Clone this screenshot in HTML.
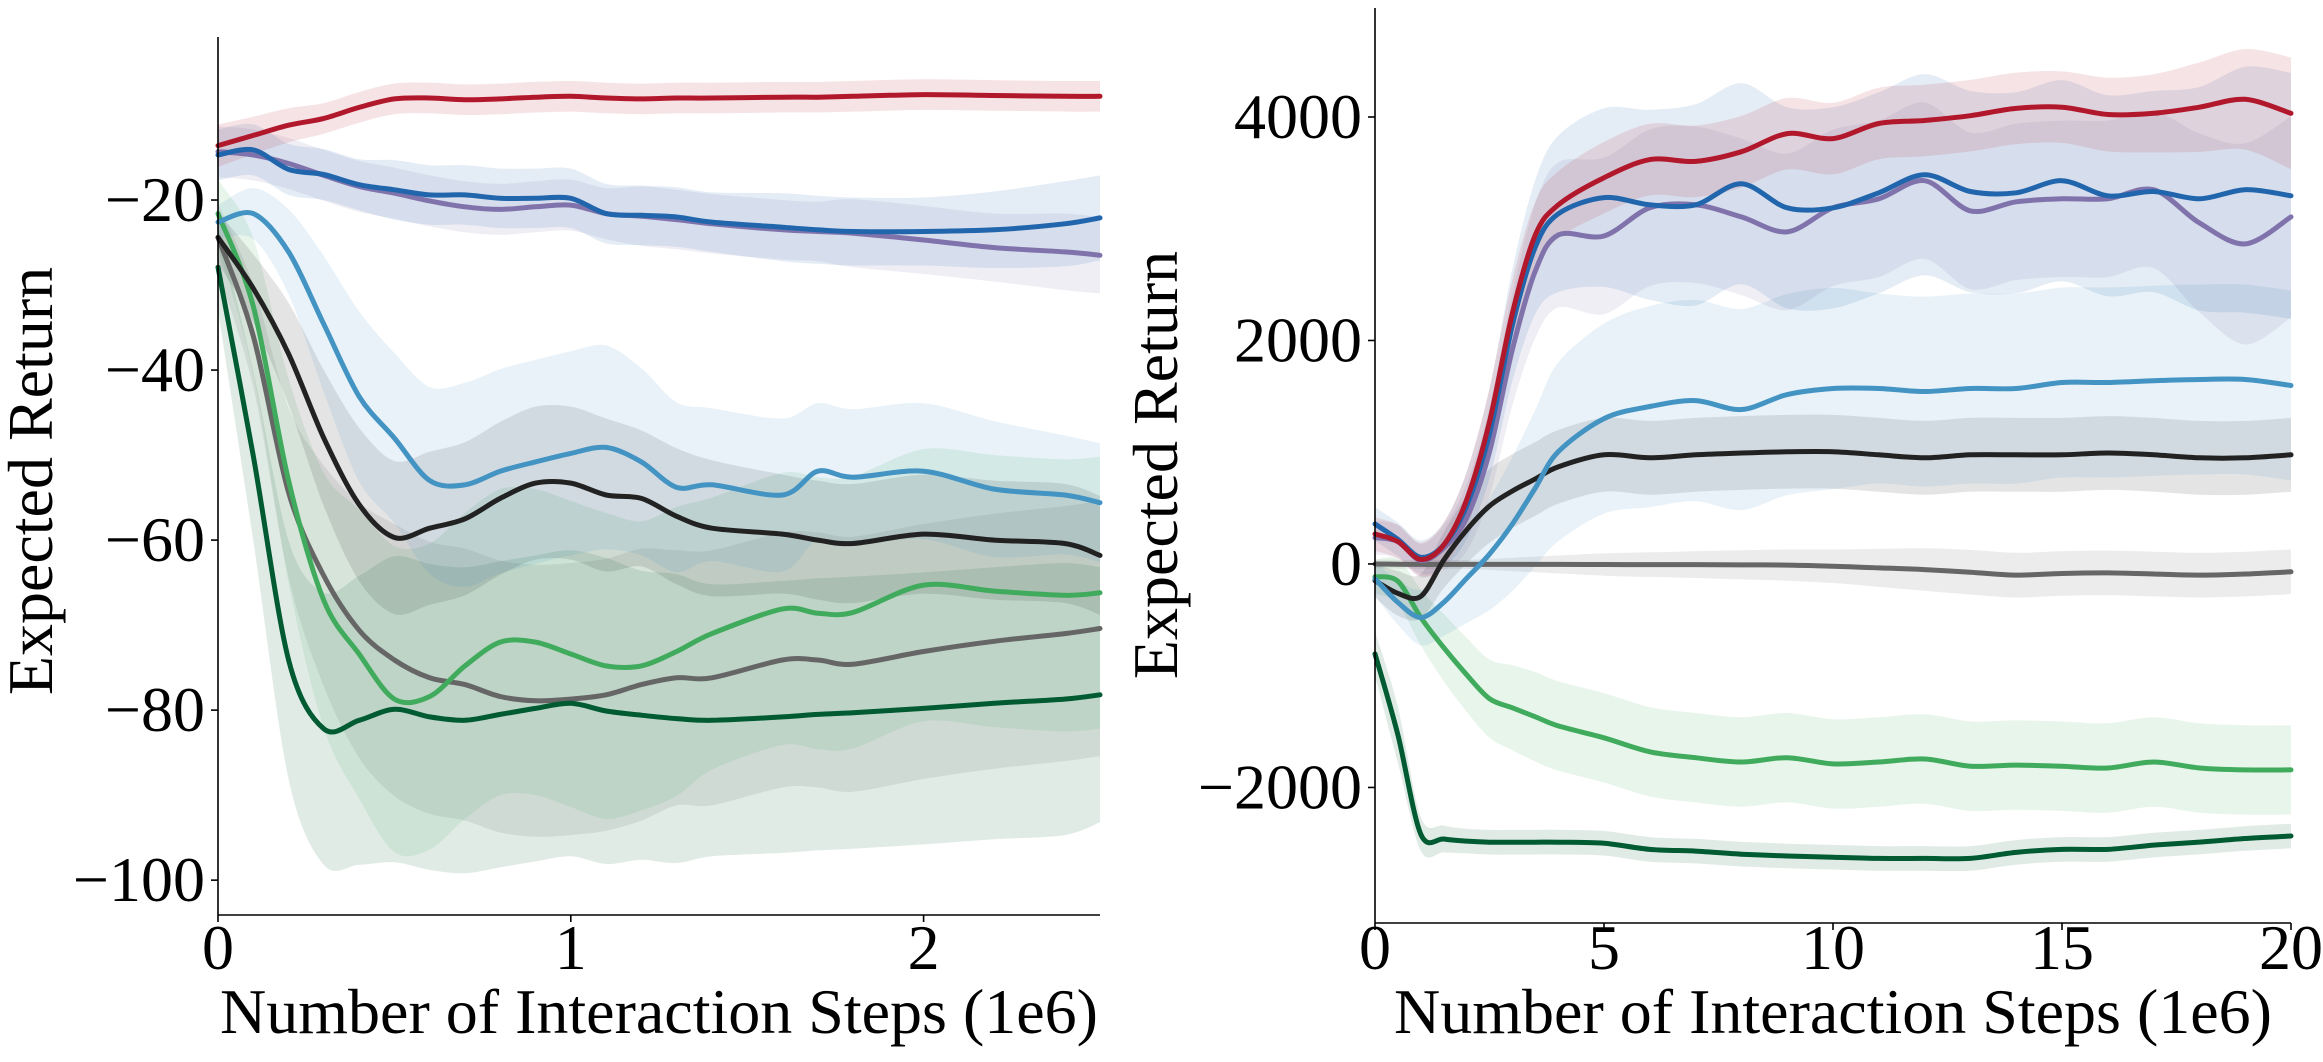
<!DOCTYPE html>
<html><head><meta charset="utf-8"><style>
html,body{margin:0;padding:0;background:#fff;}
svg{display:block;font-family:"Liberation Serif","DejaVu Serif",serif;}
</style></head><body>
<svg id="chart" width="2323" height="1062" viewBox="0 0 2323 1062" xmlns="http://www.w3.org/2000/svg">
<g id="left"></g>
<g id="right"></g>
</svg>
<script>
// ---------- Left panel data ----------
const xL = [0,0.1,0.2,0.3,0.4,0.5,0.6,0.7,0.8,0.9,1.0,1.1,1.2,1.3,1.4,1.6,1.7,1.8,2.0,2.2,2.4,2.5];
const L_red = [-13.6,-12.4,-11.2,-10.4,-9.1,-8.1,-8.0,-8.2,-8.1,-7.9,-7.8,-8.0,-8.1,-8.0,-8.0,-7.9,-7.9,-7.8,-7.6,-7.7,-7.8,-7.8];
const L_blue = [-14.7,-14.1,-16.4,-17.0,-18.2,-18.8,-19.4,-19.4,-19.8,-19.8,-19.8,-21.6,-21.8,-22.0,-22.6,-23.2,-23.5,-23.7,-23.7,-23.5,-22.8,-22.1];
const L_purple = [-14.3,-14.7,-15.7,-17.1,-18.4,-19.2,-20.1,-20.8,-21.1,-20.8,-20.6,-21.6,-21.9,-22.3,-22.8,-23.5,-23.7,-23.9,-24.7,-25.6,-26.1,-26.5];
const L_lblue = [-22.6,-21.6,-26.1,-34.6,-43.1,-48.0,-53.0,-53.5,-51.9,-50.8,-49.8,-49.1,-50.8,-53.8,-53.5,-54.7,-51.9,-52.6,-51.9,-54.0,-54.7,-55.6];
const L_black = [-24.4,-30.4,-38.1,-48.0,-55.8,-59.7,-58.6,-57.5,-55.1,-53.3,-53.3,-54.7,-55.1,-57.2,-58.6,-59.3,-60.0,-60.4,-59.3,-60.0,-60.4,-61.8];
const L_gray = [-24.4,-36.0,-54.4,-64.2,-70.6,-74.1,-76.2,-77.0,-78.4,-78.9,-78.7,-78.2,-77.0,-76.2,-76.2,-74.1,-74.1,-74.6,-73.1,-71.9,-71.0,-70.4];
const L_green = [-21.6,-32.5,-53.0,-67.1,-73.4,-78.7,-78.4,-74.8,-72.0,-72.0,-73.4,-74.8,-74.8,-73.1,-71.0,-68.1,-68.6,-68.5,-65.3,-66.0,-66.5,-66.2];
const L_dgreen = [-27.9,-50.1,-74.1,-82.2,-81.2,-79.9,-80.8,-81.2,-80.5,-79.8,-79.2,-80.1,-80.6,-81.0,-81.2,-80.8,-80.5,-80.3,-79.8,-79.2,-78.7,-78.2];
// band half-widths
const LB_red = [2.5,2.2,2,1.8,1.8,1.8,1.8,1.8,1.8,1.8,1.8,1.8,1.8,1.8,1.8,1.8,1.8,1.8,1.8,1.8,1.8,1.8];
const LB_blue = [3,3,3,3,3,3.5,3.5,3.5,3.5,3.5,3.5,3.5,3.5,3.5,3.5,4,4,4,4,4.5,5,5];
const LB_purple = [3,3,3,3,3,3,3,3,3,3,3,3,3.5,3.5,3.5,3.5,3.5,4,4,4,4.5,4.5];
const LB_lblue = [2,3,5,8,10,10,11,12,12,12,12,12,11,10,9,9,8,8,8,8,7,7];
const LB_black = [3,4,6,8,9,9,9,9,9,9,9,9,8,8,8,7,7,7,7,7,7,7];
const LB_gray = [4,6,10,13,15,16,16,16,16,16,16,16,16,15,15,15,15,15,15,15,15,15];
const LB_green = [4,8,12,15,17,18,18,18,18,18,18,18,17,17,16,16,16,16,16,16,16,16];
const LB_dgreen = [5,10,14,16,17,18,18,18,18,18,18,18,17,17,16,16,16,16,16,16,16,15];
const L_xticks = [0,1,2];
const L_yticks = [-20,-40,-60,-80,-100];

// ---------- Right panel data ----------
const xR = [0,0.5,1,1.5,2,2.5,3,3.5,4,5,6,7,8,9,10,11,12,13,14,15,16,17,18,19,20];
const R_red = [268,200,40,170,573,1273,2245,2944,3213,3457,3619,3603,3689,3851,3807,3942,3969,4012,4077,4088,4022,4033,4088,4158,4033];
const R_blue = [358,220,60,170,519,1166,2138,2837,3133,3279,3214,3214,3403,3187,3187,3322,3484,3333,3322,3430,3295,3333,3268,3349,3295];
const R_purple = [235,200,30,143,412,1004,1920,2622,2944,2935,3187,3214,3106,2972,3187,3268,3430,3160,3241,3268,3268,3349,3052,2864,3106];
const R_lblue = [-132,-344,-479,-344,-128,88,358,680,1004,1301,1409,1462,1382,1516,1570,1570,1543,1570,1570,1624,1624,1640,1651,1651,1597];
const R_black = [-150,-263,-290,34,304,519,653,761,869,977,950,977,993,1004,1004,977,950,977,977,977,993,977,950,950,977];
const R_gray = [0,-2,-4,-4,-4,-4,-4,-4,-4,-5,-6,-6,-8,-10,-20,-35,-50,-74,-100,-85,-80,-90,-100,-90,-70];
const R_green = [-114,-155,-479,-748,-991,-1206,-1287,-1368,-1449,-1556,-1681,-1734,-1772,-1734,-1789,-1772,-1745,-1810,-1800,-1810,-1826,-1772,-1826,-1843,-1843];
const R_dgreen = [-805,-1530,-2418,-2461,-2480,-2490,-2490,-2490,-2490,-2500,-2554,-2570,-2597,-2613,-2624,-2635,-2635,-2635,-2581,-2554,-2554,-2516,-2489,-2457,-2434];
const RB_red = [150,150,150,200,250,300,300,300,300,320,320,320,320,320,320,320,320,320,320,320,330,350,400,450,500];
const RB_blue = [150,150,150,200,300,400,500,600,700,800,850,900,900,900,900,900,900,900,900,900,900,900,1000,1100,1100];
const RB_purple = [150,150,150,200,300,400,500,600,650,700,700,700,700,700,700,700,700,700,700,700,700,700,800,900,900];
const RB_lblue = [150,200,250,300,400,500,600,700,800,850,900,900,900,900,900,850,850,850,850,850,850,850,850,850,850];
const RB_black = [150,200,200,250,300,330,330,330,330,330,330,330,330,330,330,330,330,330,330,330,330,330,330,330,330];
const RB_gray = [40,40,40,40,40,50,60,70,80,100,110,120,130,140,150,170,190,200,200,200,200,200,200,200,200];
const RB_green = [150,200,250,300,330,350,380,400,400,400,400,400,400,400,400,400,400,400,400,400,400,400,400,400,400];
const RB_dgreen = [200,250,150,120,110,110,110,110,110,110,110,110,110,110,110,110,110,110,110,110,110,110,110,110,110];
const R_xticks = [0,5,10,15,20];
const R_yticks = [4000,2000,0,-2000];

const NS = "http://www.w3.org/2000/svg";
const colors = {red:"#b2182b", blue:"#2166ac", purple:"#8073ac", lblue:"#4393c3", black:"#222222", gray:"#666666", green:"#41ab5d", dgreen:"#005a32"};

function el(tag, attrs, parent){
  const e = document.createElementNS(NS, tag);
  for (const k in attrs) e.setAttribute(k, attrs[k]);
  parent.appendChild(e);
  return e;
}
function smooth(pts, start){
  let d = (start ? "M" : "L") + pts[0][0].toFixed(1) + "," + pts[0][1].toFixed(1);
  for (let i = 0; i < pts.length - 1; i++){
    const p0 = pts[Math.max(0,i-1)], p1 = pts[i], p2 = pts[i+1], p3 = pts[Math.min(pts.length-1,i+2)];
    const t = 0.16;
    const c1x = p1[0] + (p2[0]-p0[0])*t, c1y = p1[1] + (p2[1]-p0[1])*t;
    const c2x = p2[0] - (p3[0]-p1[0])*t, c2y = p2[1] - (p3[1]-p1[1])*t;
    d += "C" + c1x.toFixed(1) + "," + c1y.toFixed(1) + " " + c2x.toFixed(1) + "," + c2y.toFixed(1) + " " + p2[0].toFixed(1) + "," + p2[1].toFixed(1);
  }
  return d;
}

function drawPanel(g, cfg){
  const sx = v => cfg.px0 + (v - cfg.xmin) / (cfg.xmax - cfg.xmin) * (cfg.px1 - cfg.px0);
  const sy = v => cfg.py0 + (cfg.ymax - v) / (cfg.ymax - cfg.ymin) * (cfg.py1 - cfg.py0);
  cfg.series.forEach(s => {
    const up = cfg.xs.map((x,i) => [sx(x), sy(s.v[i] + s.b[i])]);
    const lo = cfg.xs.map((x,i) => [sx(x), sy(s.v[i] - s.b[i])]).reverse();
    const d = smooth(up, true) + smooth(lo, false) + "Z";
    const p = el("path", {d: d, fill: colors[s.c], "fill-opacity": 0.12, stroke: "none"}, g);
    
    
  });
  cfg.series.forEach(s => {
    const pts = cfg.xs.map((x,i) => [sx(x), sy(s.v[i])]);
    const p = el("path", {d: smooth(pts, true), fill: "none", stroke: colors[s.c], "stroke-width": 5, "stroke-linejoin": "round", "stroke-linecap": "round"}, g);
    
    
  });
  const ys = el("line", {x1: cfg.px0, y1: cfg.spineTop, x2: cfg.px0, y2: cfg.py1, stroke: "#000", "stroke-width": 1.6}, g);
  
  
  const xsl = el("line", {x1: cfg.px0, y1: cfg.py1, x2: cfg.px1, y2: cfg.py1, stroke: "#000", "stroke-width": 1.6}, g);
  
  
  cfg.xticks.forEach(t => {
    const x = sx(t);
    el("line", {x1: x, y1: cfg.py1, x2: x, y2: cfg.py1 + 7, stroke: "#000", "stroke-width": 1.6}, g);
    const tx = el("text", {x: x, y: 969, "font-size": 64, "text-anchor": "middle", fill: "#000"}, g);
    tx.textContent = String(t);
    
    
  });
  cfg.yticks.forEach(t => {
    const y = sy(t);
    el("line", {x1: cfg.px0 - 7, y1: y, x2: cfg.px0, y2: y, stroke: "#000", "stroke-width": 1.6}, g);
    const tx = el("text", {x: cfg.px0 - 13, y: y + 21, "font-size": 64, "text-anchor": "end", fill: "#000"}, g);
    tx.textContent = String(t).replace("-", "\u2212");
    
    
  });
  const xl = el("text", {x: (cfg.px0 + cfg.px1) / 2, y: 1033, "font-size": 64, "text-anchor": "middle", fill: "#000"}, g);
  xl.textContent = "Number of Interaction Steps (1e6)";
  
  
  const yl = el("text", {x: 0, y: 0, "font-size": 64, "text-anchor": "middle", fill: "#000", transform: "translate(" + cfg.ylabX + "," + cfg.ylabY + ") rotate(-90)"}, g);
  yl.textContent = "Expected Return";
  
  
}

drawPanel(document.getElementById("left"), {
  xs: xL, xmin: 0, xmax: 2.5, px0: 218, px1: 1100,
  ymin: -104.1, ymax: -20 + 200/8.5, py0: 0, py1: 915, spineTop: 37,
  xticks: L_xticks, yticks: L_yticks, ylabX: 52, ylabY: 481,
  series: [
    {name:"gray", c:"gray", v:L_gray, b:LB_gray},
    {name:"dark-green", c:"dgreen", v:L_dgreen, b:LB_dgreen},
    {name:"green", c:"green", v:L_green, b:LB_green},
    {name:"black", c:"black", v:L_black, b:LB_black},
    {name:"light-blue", c:"lblue", v:L_lblue, b:LB_lblue},
    {name:"purple", c:"purple", v:L_purple, b:LB_purple},
    {name:"blue", c:"blue", v:L_blue, b:LB_blue},
    {name:"red", c:"red", v:L_red, b:LB_red}
  ]
});
drawPanel(document.getElementById("right"), {
  xs: xR, xmin: 0, xmax: 20, px0: 1375, px1: 2291,
  ymin: -3213, ymax: 564 / 0.11175, py0: 0, py1: 923, spineTop: 8,
  xticks: R_xticks, yticks: R_yticks, ylabX: 1177, ylabY: 465,
  series: [
    {name:"gray", c:"gray", v:R_gray, b:RB_gray},
    {name:"dark-green", c:"dgreen", v:R_dgreen, b:RB_dgreen},
    {name:"green", c:"green", v:R_green, b:RB_green},
    {name:"black", c:"black", v:R_black, b:RB_black},
    {name:"light-blue", c:"lblue", v:R_lblue, b:RB_lblue},
    {name:"purple", c:"purple", v:R_purple, b:RB_purple},
    {name:"blue", c:"blue", v:R_blue, b:RB_blue},
    {name:"red", c:"red", v:R_red, b:RB_red}
  ]
});
</script>
</body></html>
